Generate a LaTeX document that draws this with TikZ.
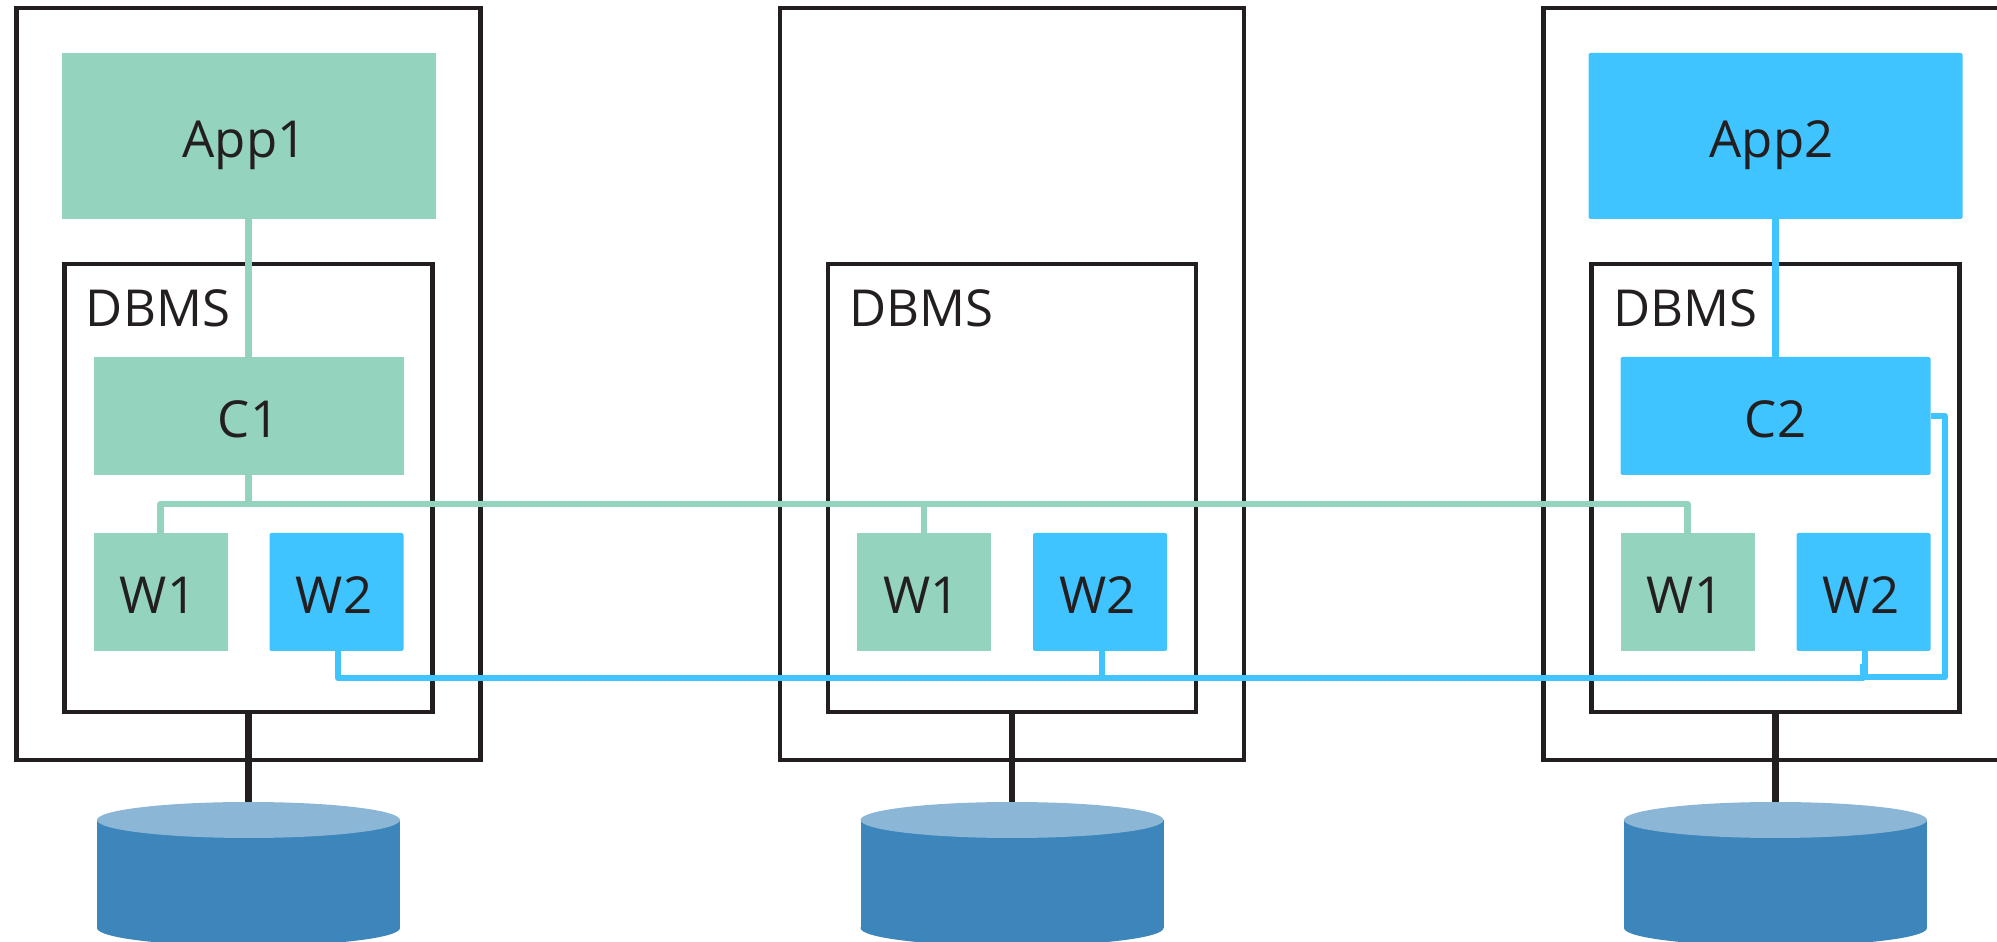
\documentclass[tikz,border=0pt]{standalone}
\usepackage{fontspec}
\setmainfont{Open Sans}
\usetikzlibrary{shapes.geometric}
\definecolor{tealfill}{HTML}{94D3BD}
\definecolor{bluefill}{HTML}{40C4FF}
\definecolor{inkline}{HTML}{231F20}
\definecolor{diskbody}{HTML}{3C86BB}
\definecolor{disktop}{HTML}{8BB6D6}
\tikzset{every node/.style={inner sep=0pt,outer sep=0pt,text=inkline,text height=.43cm,text depth=0pt,font=\fontsize{14.5}{16}\selectfont}}
\tikzset{frame/.style={draw=inkline,line width=1.2pt,line join=miter}}
\tikzset{appbox/.style={minimum width=3.74cm,minimum height=1.66cm,execute at end node={\hspace{.08cm}}}}
\tikzset{coordbox/.style={minimum width=3.1cm,minimum height=1.18cm}}
\tikzset{workbox/.style={minimum width=1.34cm,minimum height=1.18cm,execute at end node={\hspace{.05cm}}}}
\tikzset{tealbox/.style={fill=tealfill}}
\tikzset{bluebox/.style={fill=bluefill,rounded corners=.02cm}}
\tikzset{tealline/.style={draw=tealfill,line width=1.75pt,line join=round}}
\tikzset{blueline/.style={draw=bluefill,line width=1.75pt,line join=round}}
\tikzset{stem/.style={draw=inkline,line width=1.8pt}}
\tikzset{disklid/.style={shape=ellipse,text height=0pt,minimum width=3.03cm,minimum height=.36cm}}

\begin{document}
\begin{tikzpicture}
\useasboundingbox (0,0) rectangle (19.97,-9.42);
\clip (0,0) rectangle (19.97,-9.42);

\node[frame,minimum width=4.64cm,minimum height=7.515cm] (hosta) at (2.485,-3.84) {};
\node[frame,minimum width=4.64cm,minimum height=7.515cm] (hostb) at (10.12,-3.84) {};
\node[frame,minimum width=4.64cm,minimum height=7.515cm] (hostc) at (17.755,-3.84) {};

\node[frame,minimum width=3.68cm,minimum height=4.475cm] (dbmsa) at (2.485,-4.88) {};
\node[frame,minimum width=3.68cm,minimum height=4.475cm] (dbmsb) at (10.12,-4.88) {};
\node[frame,minimum width=3.68cm,minimum height=4.475cm] (dbmsc) at (17.755,-4.88) {};
\node[anchor=base west] (labela) at (0.86,-3.27) {DBMS};
\node[anchor=base west] (labelb) at (8.495,-3.27) {DBMS};
\node[anchor=base west] (labelc) at (16.13,-3.27) {DBMS};

\node[appbox,tealbox] (app1) at (2.485,-1.36) {App1};
\node[appbox,bluebox] (app2) at (17.755,-1.36) {App2};

\node[coordbox,tealbox] (c1) at (2.485,-4.16) {C1};
\node[coordbox,bluebox] (c2) at (17.755,-4.16) {C2};

\node[workbox,tealbox] (w1a) at (1.605,-5.92) {W1};
\node[workbox,bluebox] (w2a) at (3.365,-5.92) {W2};
\node[workbox,tealbox] (w1b) at (9.24,-5.92) {W1};
\node[workbox,bluebox] (w2b) at (11,-5.92) {W2};
\node[workbox,tealbox] (w1c) at (16.875,-5.92) {W1};
\node[workbox,bluebox] (w2c) at (18.635,-5.92) {W2};

\node[disklid,fill=diskbody] (basea) at (2.485,-9.28) {};
\node[disklid,fill=diskbody] (baseb) at (10.12,-9.28) {};
\node[disklid,fill=diskbody] (basec) at (17.755,-9.28) {};
\fill[diskbody] (2.485,-8.2) ++(-1.515,0) rectangle (basea.east);
\fill[diskbody] (10.12,-8.2) ++(-1.515,0) rectangle (baseb.east);
\fill[diskbody] (17.755,-8.2) ++(-1.515,0) rectangle (basec.east);
\node[disklid,fill=disktop] (lida) at (2.485,-8.2) {};
\node[disklid,fill=disktop] (lidb) at (10.12,-8.2) {};
\node[disklid,fill=disktop] (lidc) at (17.755,-8.2) {};

\coordinate (busa) at (2.485,-5.04);
\coordinate (busb) at (18.63,-6.78);
\coordinate (busc) at (18.63,-6.64);
\coordinate (busd) at (19.45,-6.77);

\draw[tealline] (app1) -- (c1);
\draw[blueline] (app2) -- (c2);

\draw[tealline] (w1a.north) |- (busa) -| (w1c.north);
\draw[tealline] (c1.south) -- (busa);
\draw[tealline] (w1b.north) -- (w1b.north |- busa);

\draw[blueline] ([xshift=.017cm]w2a.south) |- (busb) -- (busc);
\draw[blueline] ([xshift=.017cm]w2b.south) -- ([xshift=.017cm]w2b.south |- busb);
\draw[blueline] (c2.east) -| (busd) -| ([xshift=.017cm]w2c.south);

\draw[stem] (dbmsa.south) -- (lida.north);
\draw[stem] (dbmsb.south) -- (lidb.north);
\draw[stem] (dbmsc.south) -- (lidc.north);
\end{tikzpicture}
\end{document}
